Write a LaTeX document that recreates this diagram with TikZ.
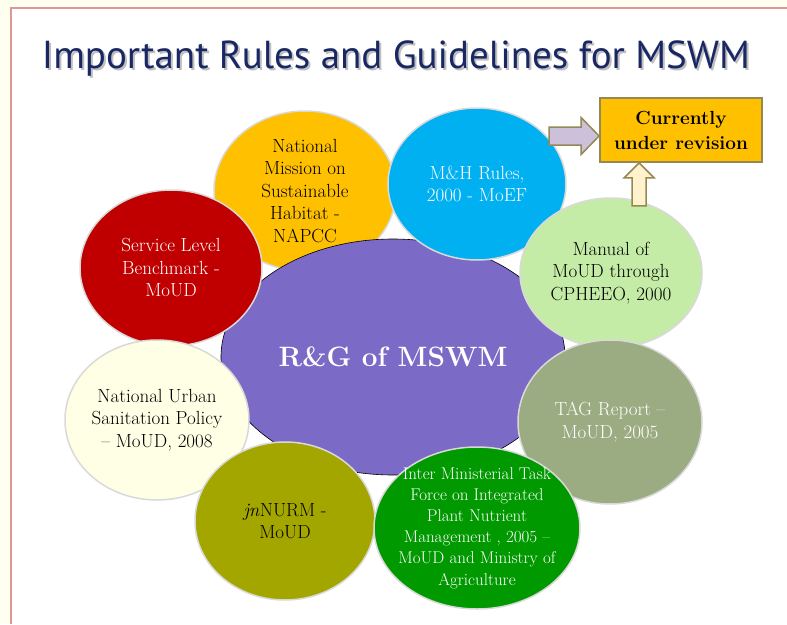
\documentclass[tikz,border=0pt]{standalone}
\usepackage{fontspec}
\newfontfamily\titlefont{PT Sans}
\usepackage{tikz}
\usetikzlibrary{
calc,
shapes,
}

\definecolor{framecream}{RGB}{255,255,240}
\definecolor{framepink}{RGB}{222,150,150}
\definecolor{titleblue}{RGB}{25,40,100}
\definecolor{rgpurple}{RGB}{124,106,199}
\definecolor{napccyellow}{RGB}{255,192,0}
\definecolor{mhblue}{RGB}{0,176,240}
\definecolor{slbred}{RGB}{192,0,0}
\definecolor{nuspcream}{RGB}{255,255,230}
\definecolor{jnolive}{RGB}{164,166,0}
\definecolor{imtfgreen}{RGB}{0,153,0}
\definecolor{taggreen}{RGB}{155,171,130}
\definecolor{manualgreen}{RGB}{196,236,166}
\definecolor{boxedge}{RGB}{148,137,84}
\definecolor{arrowlilac}{RGB}{204,192,218}
\definecolor{arrowcream}{RGB}{255,242,204}

\tikzset{
bubble/.style={ellipse, draw=black!15, line width=1.5pt, align=center, inner sep=-30pt,
  font=\fontsize{19}{22.5}\selectfont},
blockarrow/.style={draw=boxedge, line width=1.5pt, line join=miter},
}

\begin{document}
\begin{tikzpicture}[x=1pt,y=-1pt]
		\useasboundingbox (0,0) rectangle (787,624);
		\fill[framecream] (0,0) rectangle (787,624);
		\fill[white] (11,8) rectangle (787,624);
		\draw[framepink, line width=2pt] (11,624) -- (11,8) -- (787,8);

		% title with its shadow
		\node[anchor=base, font=\titlefont\fontsize{39}{44}\selectfont, text=black!25] at (398,70) {Important Rules and Guidelines for MSWM};
		\node[anchor=base, font=\titlefont\fontsize{39}{44}\selectfont, text=titleblue] (title) at (396,68) {Important Rules and Guidelines for MSWM};

		\node[bubble, fill=napccyellow, minimum width=182, minimum height=160] (napcc) at (305,191) {National\\Mission on\\Sustainable\\Habitat -\\NAPCC};
		\node[ellipse, draw=black, line width=0.6pt, fill=rgpurple, minimum width=344, minimum height=236, text=white,
			font=\bfseries\fontsize{28}{32}\selectfont] (rg) at (393,357) {R\&G of MSWM};
		\node[bubble, fill=mhblue, text=white, minimum width=178, minimum height=152] (mh) at (477,184) {M\&H Rules,\\2000 - MoEF};
		\node[bubble, fill=slbred, text=white, minimum width=182, minimum height=156] (slb) at (171,268) {Service Level\\Benchmark -\\MoUD};
		\node[bubble, fill=nuspcream, minimum width=184, minimum height=160] (nusp) at (157,420) {National Urban\\Sanitation Policy\\-- MoUD, 2008};
		\node[bubble, fill=jnolive, minimum width=180, minimum height=158] (jnnurm) at (285,521) {\textit{jn}NURM -\\MoUD};
		\node[bubble, fill=manualgreen, minimum width=182, minimum height=150] (manual) at (611,273) {Manual of\\MoUD through\\CPHEEO, 2000};
		\node[bubble, fill=taggreen, text=white, minimum width=184, minimum height=164] (tag) at (610,422) {TAG Report --\\MoUD, 2005};
		\node[bubble, fill=imtfgreen, text=white, minimum width=206, minimum height=162,
			font=\fontsize{17}{21.2}\selectfont] (imtf) at (477,528) {Inter Ministerial Task\\Force on Integrated\\Plant Nutrient\\Management , 2005 --\\MoUD and Ministry of\\Agriculture};

		\node[draw=boxedge, fill=napccyellow, line width=1.8pt, minimum width=162, minimum height=64, align=center,
			font=\bfseries\fontsize{19}{25}\selectfont] (box) at (681,130) {Currently\\under revision};

		% block arrows into the box
		\coordinate (mhtip) at ($(box.west)+(0,6)$);
		\coordinate (mhtail) at ($(mhtip)+(-50,0)$);
		\draw[blockarrow, fill=arrowlilac] (mhtail) ++(0,-9) -- ++(32,0) -- ++(0,-9.5) -- (mhtip)
			-- ++(-18,18.5) -- ++(0,-9.5) -- ++(-32,0) -- cycle;
		\coordinate (mantip) at ($(box.south west)+(40,0)$);
		\coordinate (mantail) at ($(mantip)+(0,43)$);
		\draw[blockarrow, fill=arrowcream] (mantail) ++(-7,0) -- ++(0,-28) -- ++(-8,0) -- (mantip)
			-- ++(15,15) -- ++(-8,0) -- ++(0,28) -- cycle;
	\end{tikzpicture}
\end{document}
